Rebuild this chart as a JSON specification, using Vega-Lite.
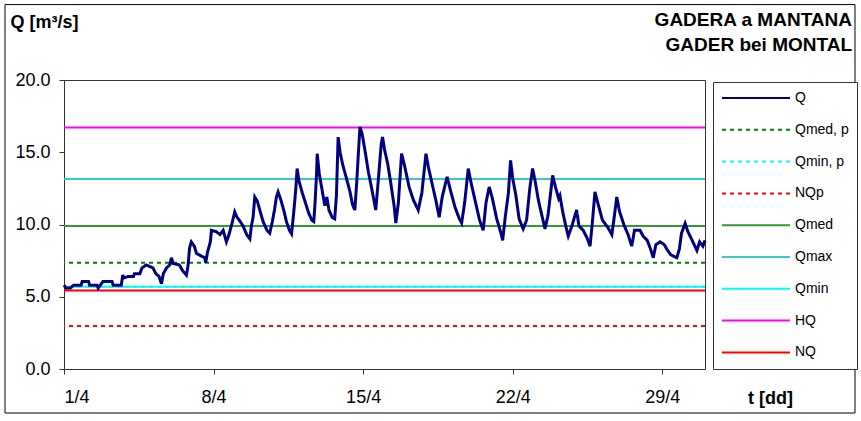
{
  "$schema": "https://vega.github.io/schema/vega-lite/v6.json",
  "width": 641,
  "height": 289,
  "autosize": {"type": "none"},
  "padding": {"left": 64, "top": 80, "right": 156, "bottom": 52},
  "background": "white",
  "title": {
    "text": ["GADERA a MANTANA", "GADER bei MONTAL"],
    "anchor": "end",
    "frame": "group",
    "orient": "top",
    "dx": 147,
    "dy": 51,
    "offset": 0,
    "font": "Liberation Sans",
    "fontSize": 19,
    "fontWeight": "bold",
    "lineHeight": 25,
    "color": "black"
  },
  "datasets": {
    "flow": [
      {"day": 0.0, "q": 5.8}, {"day": 0.1, "q": 5.6}, {"day": 0.3, "q": 5.6}, {"day": 0.45, "q": 5.8},
      {"day": 0.8, "q": 5.8}, {"day": 0.85, "q": 6.05}, {"day": 1.15, "q": 6.05}, {"day": 1.2, "q": 5.8},
      {"day": 1.55, "q": 5.8}, {"day": 1.6, "q": 5.6}, {"day": 1.7, "q": 5.8}, {"day": 1.82, "q": 6.05},
      {"day": 2.25, "q": 6.05}, {"day": 2.3, "q": 5.8}, {"day": 2.68, "q": 5.8}, {"day": 2.75, "q": 6.5},
      {"day": 2.8, "q": 6.3}, {"day": 3.0, "q": 6.4}, {"day": 3.25, "q": 6.4}, {"day": 3.3, "q": 6.6},
      {"day": 3.55, "q": 6.6}, {"day": 3.65, "q": 7.0}, {"day": 3.85, "q": 7.2}, {"day": 4.0, "q": 7.1},
      {"day": 4.16, "q": 7.0}, {"day": 4.3, "q": 6.6}, {"day": 4.45, "q": 6.4}, {"day": 4.56, "q": 5.9},
      {"day": 4.65, "q": 6.6}, {"day": 4.8, "q": 7.0}, {"day": 4.95, "q": 7.2}, {"day": 5.03, "q": 7.7},
      {"day": 5.1, "q": 7.3}, {"day": 5.4, "q": 7.2}, {"day": 5.55, "q": 6.8}, {"day": 5.73, "q": 6.5},
      {"day": 5.8, "q": 7.1}, {"day": 5.88, "q": 8.4}, {"day": 5.96, "q": 8.8}, {"day": 6.1, "q": 8.5},
      {"day": 6.2, "q": 8.0}, {"day": 6.45, "q": 7.8}, {"day": 6.59, "q": 7.7}, {"day": 6.63, "q": 7.35},
      {"day": 6.72, "q": 8.1}, {"day": 6.85, "q": 8.8}, {"day": 6.9, "q": 9.6}, {"day": 7.13, "q": 9.5},
      {"day": 7.3, "q": 9.3}, {"day": 7.45, "q": 9.6}, {"day": 7.6, "q": 8.8}, {"day": 7.7, "q": 9.2},
      {"day": 7.85, "q": 10.0}, {"day": 7.99, "q": 10.87}, {"day": 8.1, "q": 10.5}, {"day": 8.25, "q": 10.2},
      {"day": 8.38, "q": 9.9}, {"day": 8.55, "q": 9.3}, {"day": 8.7, "q": 9.0}, {"day": 8.77, "q": 9.9},
      {"day": 8.85, "q": 10.5}, {"day": 8.93, "q": 11.9}, {"day": 9.05, "q": 11.6}, {"day": 9.2, "q": 10.8},
      {"day": 9.32, "q": 10.2}, {"day": 9.5, "q": 9.6}, {"day": 9.63, "q": 9.4}, {"day": 9.75, "q": 10.2},
      {"day": 9.85, "q": 11.0}, {"day": 9.94, "q": 11.9}, {"day": 10.02, "q": 12.25}, {"day": 10.15, "q": 11.7},
      {"day": 10.3, "q": 10.9}, {"day": 10.41, "q": 10.2}, {"day": 10.55, "q": 9.6}, {"day": 10.65, "q": 9.35},
      {"day": 10.75, "q": 10.8}, {"day": 10.85, "q": 12.5}, {"day": 10.91, "q": 13.87}, {"day": 11.0, "q": 13.0},
      {"day": 11.15, "q": 12.2}, {"day": 11.3, "q": 11.5}, {"day": 11.45, "q": 10.8}, {"day": 11.6, "q": 10.3},
      {"day": 11.69, "q": 10.2}, {"day": 11.75, "q": 11.5}, {"day": 11.82, "q": 13.5}, {"day": 11.85, "q": 14.9},
      {"day": 11.95, "q": 13.5}, {"day": 12.1, "q": 12.2}, {"day": 12.21, "q": 11.3}, {"day": 12.3, "q": 11.9},
      {"day": 12.4, "q": 11.0}, {"day": 12.55, "q": 10.5}, {"day": 12.67, "q": 10.4}, {"day": 12.75, "q": 12.0},
      {"day": 12.83, "q": 16.05}, {"day": 12.92, "q": 15.0}, {"day": 13.05, "q": 14.1}, {"day": 13.2, "q": 13.3},
      {"day": 13.38, "q": 12.3}, {"day": 13.5, "q": 11.4}, {"day": 13.61, "q": 11.0}, {"day": 13.7, "q": 12.9},
      {"day": 13.78, "q": 15.0}, {"day": 13.85, "q": 16.75}, {"day": 13.95, "q": 16.3}, {"day": 14.1, "q": 15.0},
      {"day": 14.25, "q": 13.6}, {"day": 14.4, "q": 12.5}, {"day": 14.59, "q": 11.0}, {"day": 14.7, "q": 12.9},
      {"day": 14.85, "q": 15.6}, {"day": 14.91, "q": 16.05}, {"day": 15.0, "q": 15.2}, {"day": 15.15, "q": 14.2},
      {"day": 15.3, "q": 12.8}, {"day": 15.45, "q": 11.3}, {"day": 15.53, "q": 10.1}, {"day": 15.65, "q": 11.5},
      {"day": 15.75, "q": 13.8}, {"day": 15.8, "q": 14.9}, {"day": 15.95, "q": 14.0}, {"day": 16.15, "q": 12.6},
      {"day": 16.35, "q": 11.7}, {"day": 16.58, "q": 11.0}, {"day": 16.75, "q": 12.2}, {"day": 16.94, "q": 14.9},
      {"day": 17.05, "q": 14.0}, {"day": 17.2, "q": 13.0}, {"day": 17.4, "q": 11.7}, {"day": 17.56, "q": 10.5},
      {"day": 17.7, "q": 11.9}, {"day": 17.93, "q": 13.3}, {"day": 18.1, "q": 12.3}, {"day": 18.3, "q": 11.2},
      {"day": 18.5, "q": 10.4}, {"day": 18.61, "q": 10.1}, {"day": 18.75, "q": 11.5}, {"day": 18.92, "q": 13.87},
      {"day": 19.05, "q": 12.9}, {"day": 19.25, "q": 11.6}, {"day": 19.45, "q": 10.3}, {"day": 19.62, "q": 9.6},
      {"day": 19.75, "q": 11.5}, {"day": 19.9, "q": 12.6}, {"day": 20.05, "q": 11.8}, {"day": 20.25, "q": 10.4},
      {"day": 20.45, "q": 9.4}, {"day": 20.53, "q": 8.9}, {"day": 20.65, "q": 10.5}, {"day": 20.8, "q": 12.2},
      {"day": 20.9, "q": 14.44}, {"day": 21.0, "q": 13.2}, {"day": 21.15, "q": 12.0}, {"day": 21.3, "q": 10.4},
      {"day": 21.49, "q": 9.7}, {"day": 21.65, "q": 10.3}, {"day": 21.8, "q": 12.5}, {"day": 21.93, "q": 13.87},
      {"day": 22.05, "q": 13.0}, {"day": 22.2, "q": 11.7}, {"day": 22.4, "q": 10.4}, {"day": 22.51, "q": 9.7},
      {"day": 22.65, "q": 10.6}, {"day": 22.87, "q": 13.4}, {"day": 23.0, "q": 12.6}, {"day": 23.15, "q": 11.8},
      {"day": 23.21, "q": 12.0}, {"day": 23.35, "q": 10.8}, {"day": 23.5, "q": 9.8}, {"day": 23.6, "q": 9.2},
      {"day": 23.75, "q": 9.8}, {"day": 23.99, "q": 11.0}, {"day": 24.1, "q": 9.9}, {"day": 24.3, "q": 9.6},
      {"day": 24.5, "q": 9.0}, {"day": 24.62, "q": 8.5}, {"day": 24.72, "q": 10.0}, {"day": 24.85, "q": 12.25},
      {"day": 25.0, "q": 11.4}, {"day": 25.2, "q": 10.3}, {"day": 25.45, "q": 9.8}, {"day": 25.64, "q": 9.3},
      {"day": 25.75, "q": 10.5}, {"day": 25.87, "q": 11.9}, {"day": 26.0, "q": 10.9}, {"day": 26.2, "q": 10.0},
      {"day": 26.4, "q": 9.3}, {"day": 26.57, "q": 8.5}, {"day": 26.7, "q": 9.6}, {"day": 26.96, "q": 9.6},
      {"day": 27.1, "q": 9.2}, {"day": 27.3, "q": 8.9}, {"day": 27.45, "q": 8.3}, {"day": 27.58, "q": 7.7},
      {"day": 27.7, "q": 8.6}, {"day": 27.9, "q": 8.8}, {"day": 28.1, "q": 8.6}, {"day": 28.21, "q": 8.3},
      {"day": 28.4, "q": 7.9}, {"day": 28.68, "q": 7.7}, {"day": 28.8, "q": 8.3}, {"day": 28.9, "q": 9.4},
      {"day": 29.07, "q": 10.07}, {"day": 29.2, "q": 9.5}, {"day": 29.4, "q": 8.9}, {"day": 29.62, "q": 8.2},
      {"day": 29.75, "q": 8.8}, {"day": 29.9, "q": 8.5}, {"day": 30.0, "q": 8.9}
    ],
    "levels": [
      {"series": "Qmin, p", "value": 5.69},
      {"series": "Qmed, p", "value": 7.35},
      {"series": "NQp", "value": 2.97},
      {"series": "Qmed", "value": 9.9},
      {"series": "Qmax", "value": 13.15},
      {"series": "NQ", "value": 5.44},
      {"series": "Qmin", "value": 5.69},
      {"series": "HQ", "value": 16.72}
    ]
  },
  "encoding": {
    "x": {
      "type": "quantitative",
      "scale": {"domain": [0, 30], "nice": false, "zero": false},
      "axis": {
        "values": [0, 7, 14, 21, 28],
        "labelExpr": "(datum.value + 1) + '/4'",
        "title": "t [dd]",
        "titleX": 706,
        "titleY": 29,
        "titleBaseline": "middle",
        "titleAlign": "center",
        "labelPadding": 14
      }
    },
    "y": {
      "type": "quantitative",
      "scale": {"domain": [0, 20], "nice": false},
      "axis": {
        "values": [0, 5, 10, 15, 20],
        "format": ".1f",
        "title": "Q [m³/s]",
        "titleAngle": 0,
        "titleX": -54,
        "titleY": -53,
        "titleAlign": "left",
        "titleBaseline": "alphabetic",
        "labelPadding": 9
      }
    }
  },
  "layer": [
    {
      "data": {"values": [{}]},
      "mark": {"type": "rect", "fill": "transparent", "stroke": "black", "strokeWidth": 1, "clip": false},
      "encoding": {
        "x": {"datum": -2.76, "type": "quantitative"},
        "x2": {"datum": 37.02},
        "y": {"datum": 25.22, "type": "quantitative"},
        "y2": {"datum": -3.045}
      }
    },
    {
      "data": {"name": "levels"},
      "mark": {"type": "rule", "strokeWidth": 2},
      "encoding": {
        "y": {"field": "value", "type": "quantitative"},
        "color": {
          "field": "series",
          "type": "nominal",
          "scale": {
            "domain": ["Q", "Qmed, p", "Qmin, p", "NQp", "Qmed", "Qmax", "Qmin", "HQ", "NQ"],
            "range": ["#000080", "#008000", "#00FFFF", "#FF0000", "#339933", "#33CCCC", "#00FFFF", "#FF00FF", "#FF0000"]
          },
          "legend": {"title": null}
        },
        "strokeDash": {
          "field": "series",
          "type": "nominal",
          "scale": {
            "domain": ["Q", "Qmed, p", "Qmin, p", "NQp", "Qmed", "Qmax", "Qmin", "HQ", "NQ"],
            "range": [[1, 0], [4, 4], [4, 4], [4, 4], [1, 0], [1, 0], [1, 0], [1, 0], [1, 0]]
          },
          "legend": {"title": null}
        }
      }
    },
    {
      "data": {"name": "flow"},
      "mark": {"type": "line", "strokeWidth": 3, "strokeJoin": "miter"},
      "encoding": {
        "x": {"field": "day", "type": "quantitative"},
        "y": {"field": "q", "type": "quantitative"},
        "color": {"datum": "Q"},
        "strokeDash": {"datum": "Q"}
      }
    }
  ],
  "config": {
    "font": "Liberation Sans",
    "view": {"stroke": "#333333", "strokeWidth": 1},
    "axis": {
      "grid": false,
      "labelFont": "Liberation Sans",
      "labelFontSize": 18,
      "labelColor": "black",
      "tickSize": 5,
      "tickColor": "#333333",
      "domainColor": "#333333",
      "titleFont": "Liberation Sans",
      "titleFontSize": 18,
      "titleFontWeight": "bold",
      "titleColor": "black"
    },
    "legend": {
      "orient": "none",
      "legendX": 649,
      "legendY": 2,
      "padding": 8,
      "strokeColor": "#333333",
      "fillColor": "white",
      "symbolType": "stroke",
      "symbolSize": 4624,
      "symbolStrokeWidth": 2,
      "labelFont": "Liberation Sans",
      "labelFontSize": 14,
      "labelColor": "black",
      "labelOffset": 4,
      "clipHeight": 16,
      "rowPadding": 15.8,
      "labelLimit": 200
    }
  }
}
